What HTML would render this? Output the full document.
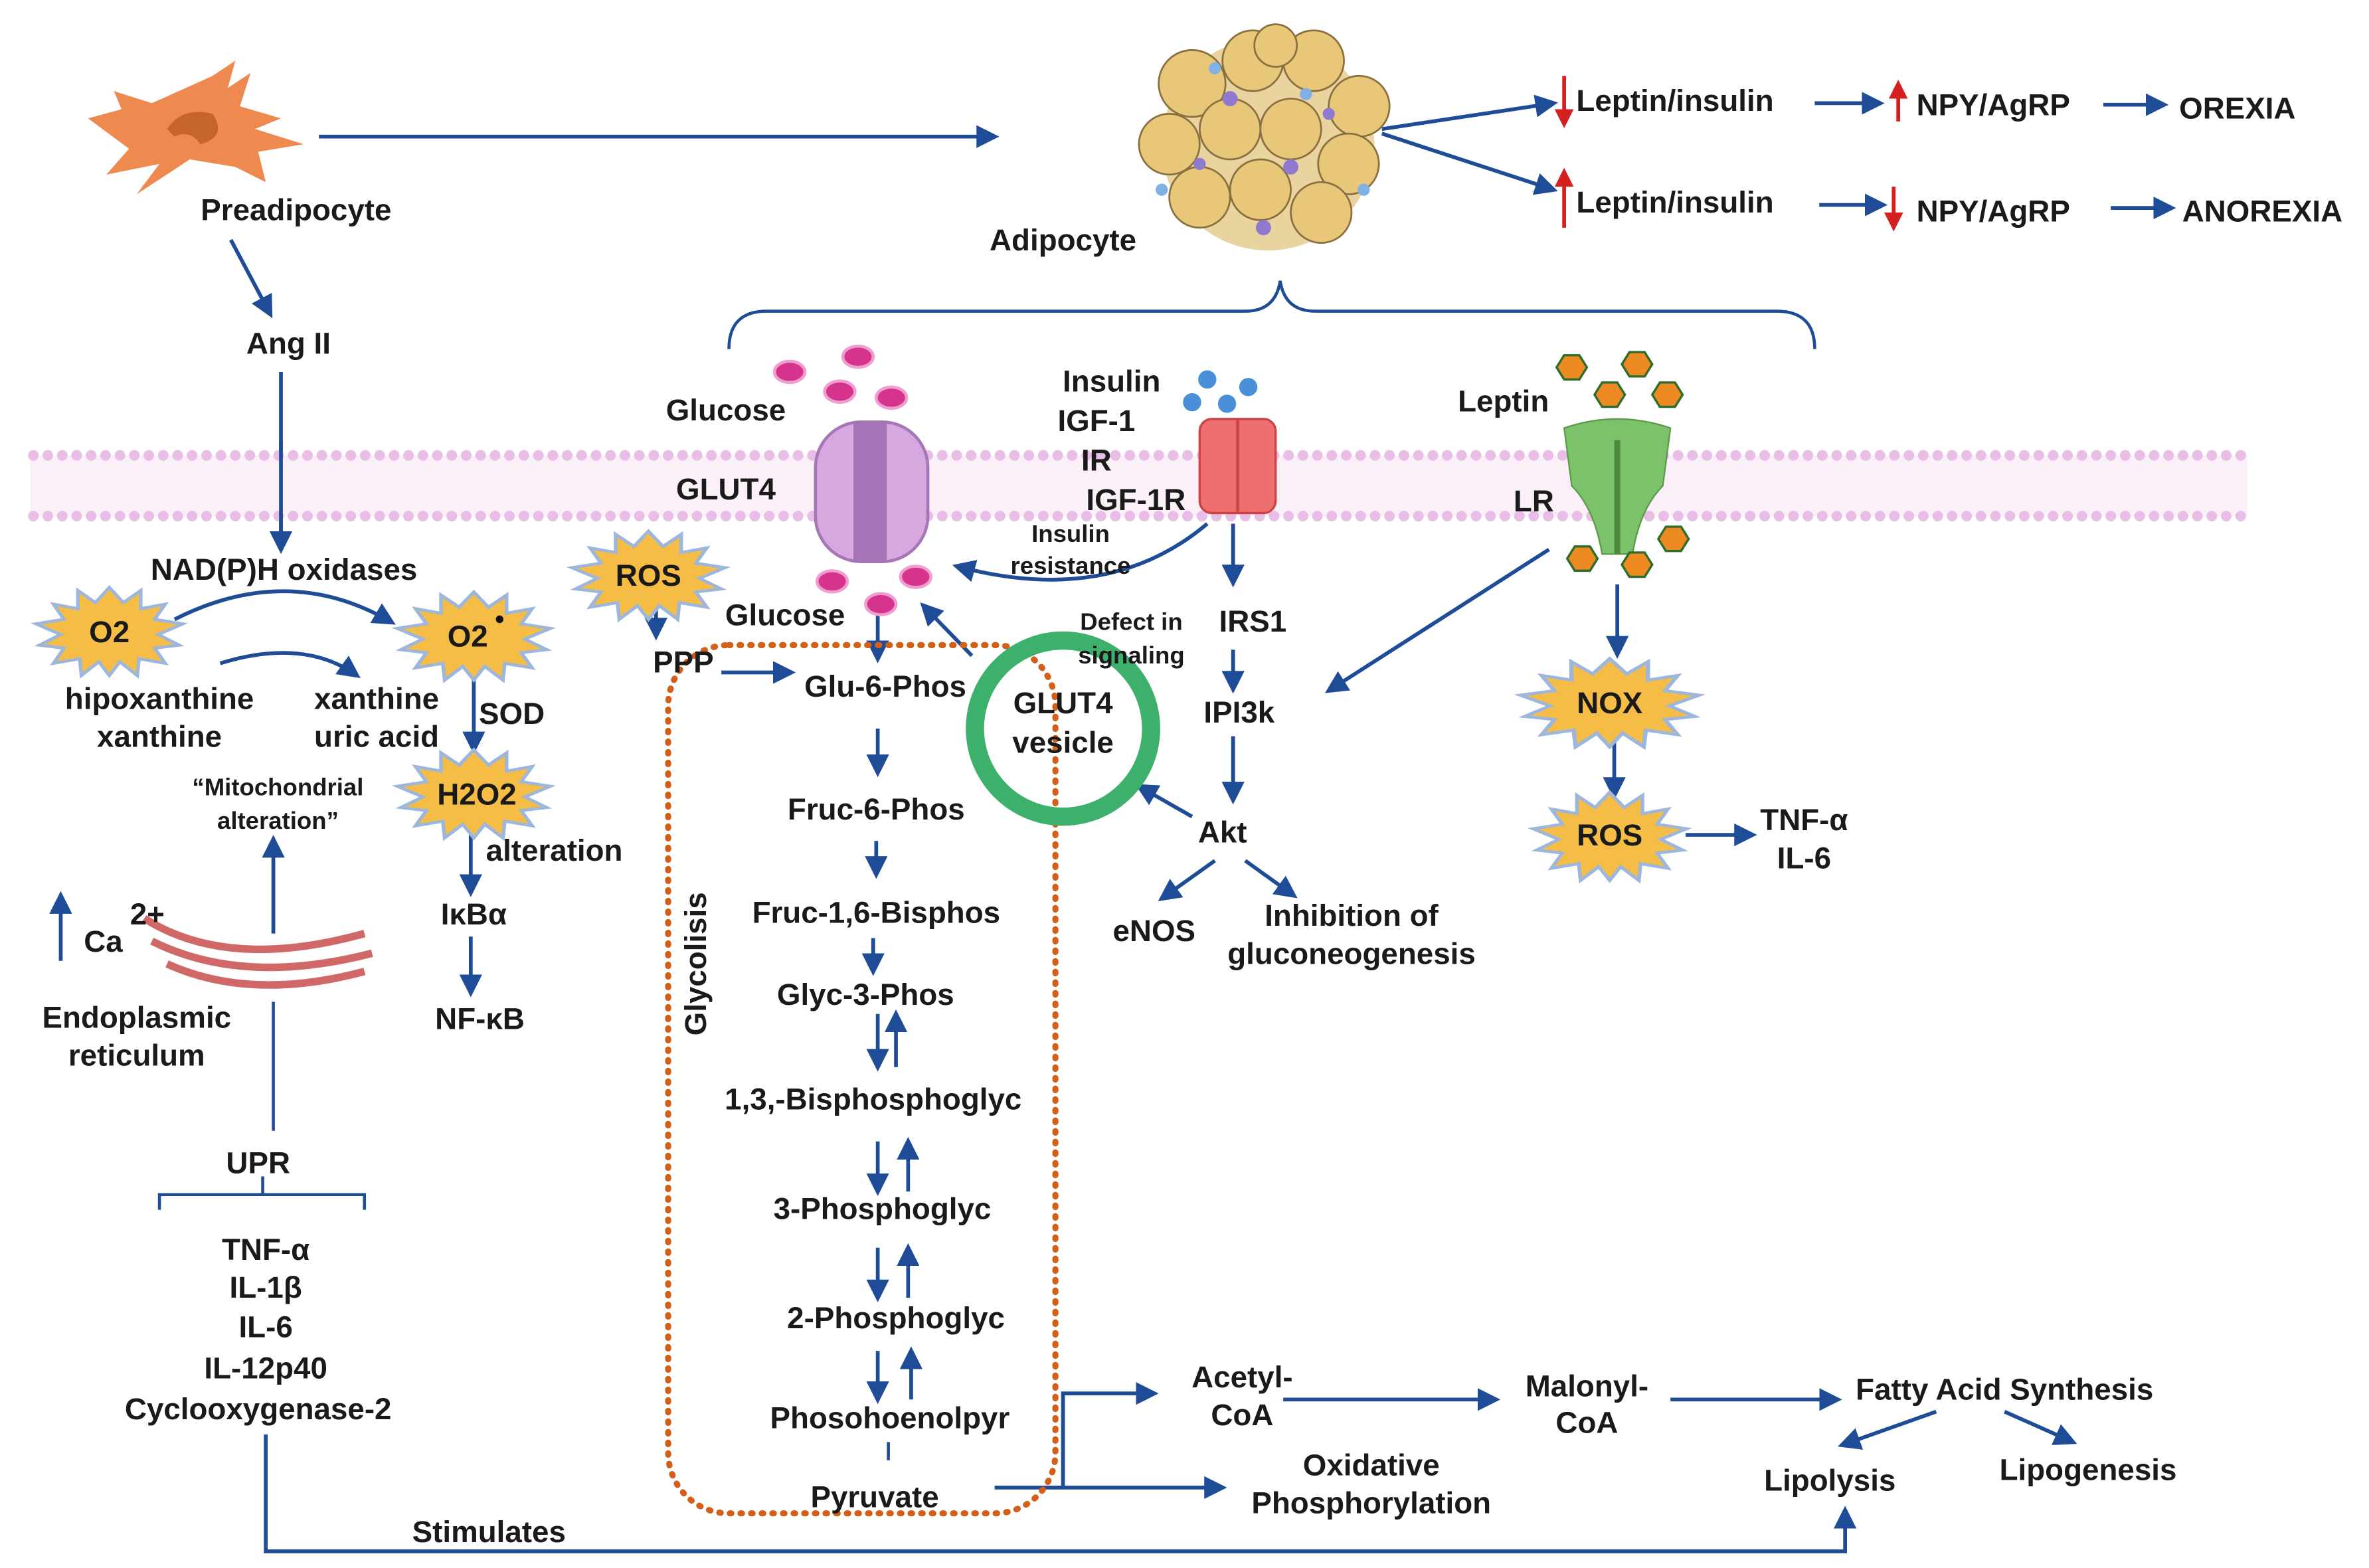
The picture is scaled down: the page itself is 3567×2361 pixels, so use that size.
<!DOCTYPE html>
<html><head><meta charset="utf-8"><style>
html,body{margin:0;padding:0;background:#fff}
svg{display:block}
text{font-family:"Liberation Sans",Arial,sans-serif;font-weight:bold;fill:#1a1a1a;font-size:20px}
.s{font-size:16px}
</style></head><body>
<svg width="3567" height="2361" viewBox="0 0 1560 1033" preserveAspectRatio="none" xmlns="http://www.w3.org/2000/svg">
<defs>
<marker id="a" viewBox="0 0 10 10" refX="8" refY="5" markerWidth="6" markerHeight="6" orient="auto-start-reverse"><path d="M0,0L10,5L0,10z" fill="#1f4c96"/></marker>
<marker id="r" viewBox="0 0 10 10" refX="8" refY="5" markerWidth="5" markerHeight="5" orient="auto"><path d="M0,0L10,5L0,10z" fill="#d42020"/></marker>
<g id="star"><polygon fill="#f5bd45" stroke="#9db6dc" stroke-width="2" points="0,-28 8,-18 18,-26 18,-14 32,-17 26,-7 42,-4 28,3 40,10 26,12 32,22 17,19 16,30 6,21 0,30 -6,21 -16,30 -17,19 -32,22 -26,12 -40,10 -28,3 -42,-4 -26,-7 -32,-17 -18,-14 -18,-26 -8,-18"/></g>
</defs>
<g stroke="#1f4c96" stroke-width="2.5" fill="none" marker-end="url(#a)">
<line x1="210" y1="90" x2="655" y2="90"/>
<line x1="152" y1="158" x2="178" y2="207"/>
<line x1="185" y1="245" x2="185" y2="362"/>
<path d="M115,408 Q190,370 258,410"/>
<path d="M145,437 Q200,420 235,445"/>
<line x1="312" y1="447" x2="312" y2="494"/>
<line x1="310" y1="546" x2="310" y2="588"/>
<line x1="310" y1="617" x2="310" y2="654"/>
<line x1="180" y1="615" x2="180" y2="553"/>
<line x1="40" y1="633" x2="40" y2="590"/>
<line x1="910" y1="85" x2="1023" y2="68"/>
<line x1="910" y1="88" x2="1023" y2="125"/>
<line x1="1195" y1="68" x2="1238" y2="68"/>
<line x1="1385" y1="69" x2="1425" y2="69"/>
<line x1="1198" y1="135" x2="1240" y2="135"/>
<line x1="1390" y1="137" x2="1430" y2="137"/>
<path d="M795,345 Q730,400 630,373"/>
<line x1="812" y1="345" x2="812" y2="384"/>
<line x1="812" y1="428" x2="812" y2="454"/>
<line x1="812" y1="485" x2="812" y2="527"/>
<line x1="785" y1="538" x2="750" y2="518"/>
<line x1="800" y1="567" x2="765" y2="592"/>
<line x1="820" y1="567" x2="852" y2="590"/>
<line x1="1020" y1="362" x2="875" y2="455"/>
<line x1="1065" y1="385" x2="1065" y2="431"/>
<line x1="1063" y1="488" x2="1063" y2="524"/>
<line x1="1110" y1="550" x2="1154" y2="550"/>
<line x1="432" y1="398" x2="432" y2="419"/>
<line x1="475" y1="443" x2="521" y2="443"/>
<line x1="578" y1="393" x2="578" y2="434"/>
<line x1="640" y1="432" x2="608" y2="399"/>
<line x1="578" y1="480" x2="578" y2="509"/>
<line x1="577" y1="554" x2="577" y2="576"/>
<line x1="575" y1="618" x2="575" y2="640"/>
<line x1="578" y1="668" x2="578" y2="703"/><line x1="590" y1="703" x2="590" y2="668"/>
<line x1="578" y1="752" x2="578" y2="785"/><line x1="598" y1="785" x2="598" y2="752"/>
<line x1="578" y1="822" x2="578" y2="855"/><line x1="598" y1="855" x2="598" y2="822"/>
<line x1="578" y1="890" x2="578" y2="922"/><line x1="600" y1="922" x2="600" y2="890"/>
<path d="M655,980 L700,980 L700,918 L760,918"/>
<line x1="700" y1="980" x2="805" y2="980"/>
<line x1="845" y1="922" x2="985" y2="922"/>
<line x1="1100" y1="922" x2="1210" y2="922"/>
<line x1="1275" y1="930" x2="1213" y2="952"/>
<line x1="1320" y1="930" x2="1365" y2="950"/>
<path d="M175,945 L175,1022 L1215,1022 L1215,995"/>
</g>
<g stroke="#1f4c96" stroke-width="2" fill="none">
<line x1="180" y1="660" x2="180" y2="745"/>
<path d="M105,797 L105,787 L240,787 L240,797 M173,787 L173,775"/>
<line x1="585" y1="950" x2="585" y2="962"/>
<path d="M480,230 Q480,205 505,205 L820,205 Q840,205 843,185 Q846,205 866,205 L1170,205 Q1195,205 1195,230"/>
</g>
<g stroke="#d42020" stroke-width="2.5" marker-end="url(#r)">
<line x1="1030" y1="50" x2="1030" y2="82"/><line x1="1030" y1="150" x2="1030" y2="113"/>
<line x1="1250" y1="80" x2="1250" y2="55"/><line x1="1247" y1="123" x2="1247" y2="150"/>
</g>
<rect x="20" y="300" width="1460" height="40" fill="#fbeff8"/>
<line x1="22" y1="300" x2="1480" y2="300" stroke="#e8bde6" stroke-width="7" stroke-linecap="round" stroke-dasharray="0 9.5"/>
<line x1="22" y1="340" x2="1480" y2="340" stroke="#e8bde6" stroke-width="7" stroke-linecap="round" stroke-dasharray="0 9.5"/>
<line x1="185" y1="290" x2="185" y2="350" stroke="#1f4c96" stroke-width="2.5"/>
<path d="M58,78 L80,72 L75,60 L100,68 L140,50 L155,40 L150,58 L165,48 L158,70 L185,78 L168,85 L200,95 L170,100 L175,120 L155,110 L125,105 L90,128 L105,108 L70,115 L85,98 Z" fill="#ee8a50"/>
<path d="M110,85 Q120,70 140,75 Q150,90 132,95 Q125,85 115,90Z" fill="#c6642e"/>
<g stroke="#8a7040" stroke-width="1.2" fill="#e8c778">
<circle cx="835" cy="95" r="70" fill="#e9d4a0" stroke="none"/>
<circle cx="785" cy="55" r="22"/><circle cx="825" cy="40" r="20"/><circle cx="865" cy="40" r="20"/><circle cx="895" cy="70" r="20"/>
<circle cx="770" cy="95" r="20"/><circle cx="810" cy="85" r="20"/><circle cx="850" cy="85" r="20"/><circle cx="888" cy="108" r="20"/>
<circle cx="790" cy="130" r="20"/><circle cx="830" cy="125" r="20"/><circle cx="870" cy="140" r="20"/><circle cx="840" cy="30" r="14"/>
</g>
<g fill="#8f7ad0"><circle cx="810" cy="65" r="5"/><circle cx="850" cy="110" r="5"/><circle cx="790" cy="108" r="4"/><circle cx="875" cy="75" r="4"/><circle cx="832" cy="150" r="5"/></g>
<g fill="#7fb0e6"><circle cx="800" cy="45" r="4"/><circle cx="860" cy="62" r="4"/><circle cx="765" cy="125" r="4"/><circle cx="898" cy="125" r="4"/></g>
<rect x="537" y="278" width="74" height="92" rx="30" fill="#d7a8e0" stroke="#a676b6" stroke-width="2"/>
<rect x="562" y="278" width="22" height="92" fill="#a874b8"/>
<rect x="790" y="276" width="50" height="62" rx="8" fill="#ee6f6f" stroke="#c44" stroke-width="1.5"/>
<line x1="815" y1="276" x2="815" y2="338" stroke="#c44" stroke-width="2"/>
<path d="M1030,282 Q1065,270 1100,282 L1095,320 Q1080,335 1075,365 L1055,365 Q1050,335 1035,320Z" fill="#7cc26a" stroke="#5a9a4a"/>
<line x1="1065" y1="290" x2="1065" y2="365" stroke="#4e8a3e" stroke-width="4"/>
<g fill="#d6338c" stroke="#ee9fd0" stroke-width="2"><ellipse cx="520" cy="245" rx="10" ry="7"/><ellipse cx="565" cy="235" rx="10" ry="7"/><ellipse cx="587" cy="262" rx="10" ry="7"/><ellipse cx="553" cy="258" rx="10" ry="7"/><ellipse cx="548" cy="383" rx="10" ry="7"/><ellipse cx="580" cy="398" rx="10" ry="7"/><ellipse cx="603" cy="380" rx="10" ry="7"/></g>
<g fill="#4a90d8"><circle cx="795" cy="250" r="6"/><circle cx="822" cy="255" r="6"/><circle cx="808" cy="266" r="6"/><circle cx="785" cy="265" r="6"/></g>
<g fill="#ee8a22" stroke="#2e6e2a" stroke-width="1.5">
<polygon points="1025,242 1030,234 1040,234 1045,242 1040,250 1030,250"/><polygon points="1068,240 1073,232 1083,232 1088,240 1083,248 1073,248"/><polygon points="1050,260 1055,252 1065,252 1070,260 1065,268 1055,268"/><polygon points="1088,260 1093,252 1103,252 1108,260 1103,268 1093,268"/>
<polygon points="1032,368 1037,360 1047,360 1052,368 1047,376 1037,376"/><polygon points="1068,372 1073,364 1083,364 1088,372 1083,380 1073,380"/><polygon points="1092,355 1097,347 1107,347 1112,355 1107,363 1097,363"/>
</g>
<use href="#star" transform="translate(72,415) scale(1.15,1)"/><text x="72" y="423" text-anchor="middle">O2</text>
<use href="#star" transform="translate(312,418) scale(1.2,1)"/><text x="308" y="426" text-anchor="middle">O2</text><circle cx="329" cy="408" r="2.5" fill="#111"/>
<use href="#star" transform="translate(312,522) scale(1.2,1)"/><text x="314" y="530" text-anchor="middle">H2O2</text>
<use href="#star" transform="translate(427,378) scale(1.2,1)"/><text x="427" y="386" text-anchor="middle">ROS</text>
<use href="#star" transform="translate(1060,462) scale(1.4,1)"/><text x="1060" y="470" text-anchor="middle">NOX</text>
<use href="#star" transform="translate(1060,550) scale(1.2,1)"/><text x="1060" y="557" text-anchor="middle">ROS</text>
<g fill="none" stroke="#d06868" stroke-width="5">
<path d="M95,605 Q150,640 240,615"/><path d="M100,620 Q160,650 245,628"/><path d="M110,635 Q165,660 240,640"/>
</g>
<rect x="440" y="425" width="255" height="572" rx="40" fill="none" stroke="#d2601a" stroke-width="4" stroke-dasharray="1 6" stroke-linecap="round"/>
<circle cx="700" cy="480" r="58" fill="none" stroke="#3db06b" stroke-width="12"/>
<g text-anchor="middle">
<text x="195" y="145">Preadipocyte</text>
<text x="700" y="165">Adipocyte</text>
<text x="190" y="233">Ang II</text>
<text x="187" y="382">NAD(P)H oxidases</text>
<text x="105" y="467">hipoxanthine</text><text x="105" y="492">xanthine</text>
<text x="248" y="467">xanthine</text><text x="248" y="492">uric acid</text>
<text x="337" y="477">SOD</text>
<text x="365" y="567">alteration</text>
<text x="312" y="609">IκBα</text><text x="316" y="678">NF-κB</text>
<text class="s" x="183" y="524">“Mitochondrial</text><text class="s" x="183" y="546">alteration”</text>
<text x="68" y="627">Ca</text><text x="97" y="609" font-size="17">2+</text>
<text x="90" y="677">Endoplasmic</text><text x="90" y="702">reticulum</text>
<text x="170" y="773">UPR</text>
<text x="175" y="830">TNF-α</text><text x="175" y="855">IL-1β</text><text x="175" y="881">IL-6</text><text x="175" y="908">IL-12p40</text><text x="170" y="935">Cyclooxygenase-2</text>
<text x="322" y="1016">Stimulates</text>
<text x="478" y="277">Glucose</text><text x="478" y="329">GLUT4</text>
<text x="732" y="258">Insulin</text><text x="722" y="284">IGF-1</text><text x="722" y="310">IR</text><text x="748" y="336">IGF-1R</text>
<text x="990" y="271">Leptin</text><text x="1010" y="337">LR</text>
<text class="s" x="705" y="357">Insulin</text><text class="s" x="705" y="378">resistance</text>
<text class="s" x="745" y="415">Defect in</text><text class="s" x="745" y="437">signaling</text>
<text x="825" y="416">IRS1</text><text x="816" y="476">IPI3k</text><text x="805" y="555">Akt</text>
<text x="760" y="620">eNOS</text><text x="890" y="610">Inhibition of</text><text x="890" y="635">gluconeogenesis</text>
<text x="1188" y="547">TNF-α</text><text x="1188" y="572">IL-6</text>
<text x="450" y="443">PPP</text><text x="517" y="412">Glucose</text>
<text x="583" y="459">Glu-6-Phos</text>
<text x="700" y="470">GLUT4</text><text x="700" y="496">vesicle</text>
<text x="577" y="540">Fruc-6-Phos</text><text x="577" y="608">Fruc-1,6-Bisphos</text><text x="570" y="662">Glyc-3-Phos</text>
<text x="575" y="731">1,3,-Bisphosphoglyc</text><text x="581" y="803">3-Phosphoglyc</text><text x="590" y="875">2-Phosphoglyc</text>
<text x="586" y="941">Phosohoenolpyr</text><text x="576" y="993">Pyruvate</text>
<text x="818" y="914">Acetyl-</text><text x="818" y="939">CoA</text>
<text x="1045" y="920">Malonyl-</text><text x="1045" y="944">CoA</text>
<text x="1320" y="922">Fatty Acid Synthesis</text>
<text x="1205" y="982">Lipolysis</text><text x="1375" y="975">Lipogenesis</text>
<text x="903" y="972">Oxidative</text><text x="903" y="997">Phosphorylation</text>
</g>
<text x="465" y="635" text-anchor="middle" transform="rotate(-90 465 635)" font-size="18">Glycolisis</text>
<text x="1038" y="73">Leptin/insulin</text><text x="1262" y="76">NPY/AgRP</text><text x="1435" y="78">OREXIA</text>
<text x="1038" y="140">Leptin/insulin</text><text x="1262" y="146">NPY/AgRP</text><text x="1437" y="146">ANOREXIA</text>
</svg>
</body></html>
